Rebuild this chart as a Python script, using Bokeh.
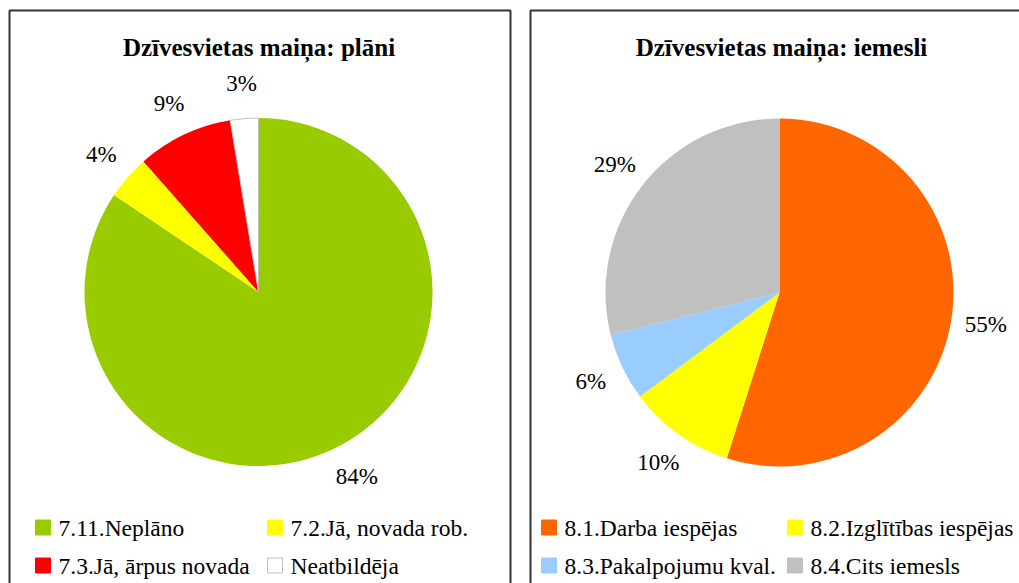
import math
from bokeh.plotting import figure
from bokeh.models import Range1d
from bokeh.core.properties import value
from bokeh.embed import file_html
from bokeh.resources import INLINE

# ---- data ----
title_left = "Dzīvesvietas maiņa: plāni"
cats_left = ["7.11.Neplāno", "7.2.Jā, novada rob.", "7.3.Jā, ārpus novada", "Neatbildēja"]
vals_left = [84.4, 4.1, 8.9, 2.6]
cols_left = ["#99CC00", "#FFFF00", "#FF0000", "#FFFFFF"]

title_right = "Dzīvesvietas maiņa: iemesli"
cats_right = ["8.1.Darba iespējas", "8.2.Izglītības iespējas", "8.3.Pakalpojumu kval.", "8.4.Cits iemesls"]
vals_right = [54.9, 9.9, 6.3, 28.9]
cols_right = ["#FF6600", "#FFFF00", "#99CCFF", "#C0C0C0"]

W, H = 1019, 583
FONT = "'Liberation Serif', 'Times New Roman', serif"

p = figure(width=W, height=H, output_backend="svg", toolbar_location=None,
           x_range=Range1d(0, W), y_range=Range1d(0, H),
           min_border=0)
p.axis.visible = False
p.grid.visible = False
p.outline_line_color = None
p.background_fill_color = "white"
p.border_fill_color = "white"


def Y(y):
    return H - y


# panel borders
p.multi_line(xs=[[9, 9, 510, 510], [530, 530, 1030]],
             ys=[[Y(600), Y(10), Y(10), Y(600)], [Y(600), Y(10), Y(10)]],
             line_color="#333333", line_width=2)


def pie(cx, cy, r, vals, cols, cats, title, tx, legend_cols_x):
    total = sum(vals)
    cum = 0.0
    for v, c in zip(vals, cols):
        a = cum / total
        b = (cum + v) / total
        start = math.pi / 2 - 2 * math.pi * b
        end = math.pi / 2 - 2 * math.pi * a
        lc = "#BFBFBF" if c.upper() == "#FFFFFF" else None
        p.wedge(x=cx, y=Y(cy), radius=r, start_angle=start, end_angle=end,
                fill_color=c, line_color=lc, line_width=1)
        mid = 2 * math.pi * (cum + v / 2) / total
        lr = r * 1.2
        lx = cx + lr * math.sin(mid)
        ly = cy - lr * math.cos(mid)
        p.text(x=[lx], y=[Y(ly)], text=["%d%%" % round(v)],
               text_font=value(FONT), text_font_size="23px",
               text_align="center", text_baseline="middle", text_color="black")
        cum += v
    p.text(x=[tx], y=[Y(47)], text=[title], text_font=value(FONT),
           text_font_size="25px", text_font_style="bold",
           text_align="center", text_baseline="middle", text_color="black")
    rows_y = [527, 565]
    for i, (cat, c) in enumerate(zip(cats, cols)):
        col = i % 2
        row = i // 2
        sx = legend_cols_x[col]
        sy = rows_y[row]
        lc = "#BFBFBF" if c.upper() == "#FFFFFF" else c
        p.rect(x=[sx + 7.5], y=[Y(sy)], width=15, height=15,
               fill_color=c, line_color=lc, line_width=1)
        p.text(x=[sx + 23], y=[Y(sy)], text=[cat], text_font=value(FONT),
               text_font_size="23.5px", text_align="left", text_baseline="middle",
               text_color="black")


pie(258, 291.5, 174, vals_left, cols_left, cats_left, title_left, 258.5, [35, 267])
pie(779, 292, 174, vals_right, cols_right, cats_right, title_right, 781, [541, 787])

open("out.html", "w").write(file_html(p, INLINE))
